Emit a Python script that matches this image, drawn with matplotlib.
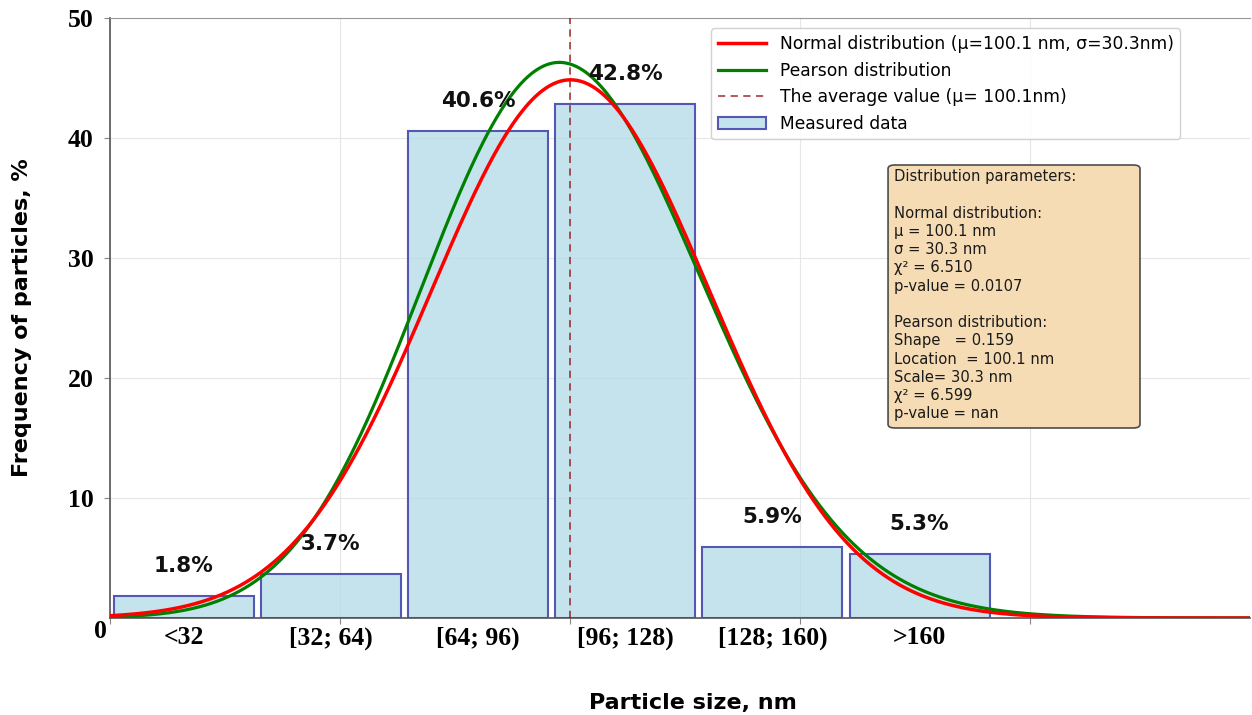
import math
import numpy as np
import matplotlib
matplotlib.use("Agg")
import matplotlib.pyplot as plt
from matplotlib.lines import Line2D
from matplotlib.patches import Patch, FancyBboxPatch

plt.rcParams["font.family"] = ["DejaVu Sans"]

# ---- data ----
categories = ["<32", "[32; 64)", "[64; 96)", "[96; 128)", "[128; 160)", ">160"]
bin_centers = [16, 48, 80, 112, 144, 176]
frequencies = [1.8, 3.7, 40.6, 42.8, 5.9, 5.3]
mu = 100.1
sigma = 30.3
pearson_skew = 0.159
pearson_loc = 100.1
pearson_scale = 30.3
normal_peak = 44.85
pearson_peak = 46.3
y_ticks = [10, 20, 30, 40, 50]
x_grid = [0, 50, 100, 150, 200]

params_text = ("Distribution parameters:\n\n"
               "Normal distribution:\n"
               "μ = 100.1 nm\n"
               "σ = 30.3 nm\n"
               "χ² = 6.510\n"
               "p-value = 0.0107\n\n"
               "Pearson distribution:\n"
               "Shape   = 0.159\n"
               "Location  = 100.1 nm\n"
               "Scale= 30.3 nm\n"
               "χ² = 6.599\n"
               "p-value = nan")

# ---- curves ----
x = np.linspace(0, 250, 1000)
norm_pdf = np.exp(-0.5 * ((x - mu) / sigma) ** 2)
norm_curve = normal_peak * norm_pdf / norm_pdf.max()

beta = 2.0 / pearson_skew
alpha = beta ** 2
zeta = -alpha / beta
z = (x - pearson_loc) / pearson_scale
t = beta * (z - zeta)
logpdf = (alpha - 1) * np.log(t) - t - math.lgamma(alpha)
p_pdf = np.exp(logpdf - logpdf.max())
pearson_curve = pearson_peak * p_pdf / p_pdf.max()

# ---- figure ----
fig = plt.figure(figsize=(12.52, 7.15), dpi=100)
W, H = 1252, 715
ax = fig.add_axes([110 / W, (H - 618) / H, (1250 - 110) / W, 600 / H])

bar_face = (0.678, 0.847, 0.902, 0.7)
bar_edge = "#5458b4"
ax.bar(bin_centers, frequencies, width=30.4, facecolor=bar_face,
       edgecolor=bar_edge, linewidth=1.5, label="Measured data", zorder=2)
ax.plot(x, norm_curve, color="red", lw=2.5, zorder=4)
ax.plot(x, pearson_curve, color="green", lw=2.3, zorder=3)
ax.axvline(mu, color="darkred", ls=(0, (4, 3)), lw=1.3, alpha=0.7, zorder=3)

for xc, h in zip(bin_centers, frequencies):
    ax.text(xc, h + 2.5, f"{h}%", ha="center", va="center",
            fontsize=15.5, fontweight="bold", color="#111111", zorder=5)

ax.set_xlim(0, (1250 - 110) / 4.6)
ax.set_ylim(0, 50)

ax.set_xticks(x_grid)
ax.set_xticklabels([])
ax.set_xticks(bin_centers, minor=True)
ax.set_xticklabels(categories, minor=True, fontfamily="Liberation Serif",
                   fontweight="bold", fontsize=18.5)
ax.tick_params(axis="x", which="minor", length=0, pad=6)
ax.tick_params(axis="x", which="major", length=4, color="#888888")

ax.set_yticks(y_ticks)
ax.set_yticklabels([str(v) for v in y_ticks], fontfamily="Liberation Serif",
                   fontweight="bold", fontsize=18.5)
ax.tick_params(axis="y", length=4, color="#888888", pad=8)
ax.text(-0.003, -0.003, "0", transform=ax.transAxes, ha="right", va="top",
        fontfamily="Liberation Serif", fontweight="bold", fontsize=18.5)

ax.grid(True, which="major", color="#e6e6e6", lw=0.8, zorder=0)
ax.set_axisbelow(True)
for s in ["left", "bottom"]:
    ax.spines[s].set_color("#555555")
    ax.spines[s].set_linewidth(1.2)
ax.spines["top"].set_color("#999999")
ax.spines["right"].set_visible(False)

ax.set_xlabel("Particle size, nm", fontsize=16, fontweight="bold")
ax.xaxis.set_label_coords(0.511, -0.125)
ax.set_ylabel("Frequency of particles, %", fontsize=16, fontweight="bold")
ax.yaxis.set_label_coords(-0.068, 0.5)

handles = [
    Line2D([], [], color="red", lw=2.5),
    Line2D([], [], color="green", lw=2.3),
    Line2D([], [], color="darkred", ls=(0, (4, 3)), lw=1.3, alpha=0.7),
    Patch(facecolor=bar_face, edgecolor=bar_edge, linewidth=1.5),
]
labels = ["Normal distribution (μ=100.1 nm, σ=30.3nm)",
          "Pearson distribution",
          "The average value (μ= 100.1nm)",
          "Measured data"]
ax.legend(handles, labels, loc="upper right", bbox_to_anchor=(0.939, 0.983),
          borderaxespad=0, fontsize=12.3, handlelength=2.8, framealpha=0.9,
          edgecolor="#cccccc")

# parameter box
box = FancyBboxPatch((0.6825, 0.3167), 0.221, 0.4383,
                     boxstyle="round,pad=0,rounding_size=0.006",
                     transform=ax.transAxes, facecolor="#f5dbb0", alpha=0.95,
                     edgecolor="#444444", linewidth=1.2, zorder=6)
ax.add_patch(box)
ax.text(0.6875, 0.748, params_text, transform=ax.transAxes, ha="left", va="top",
        fontsize=10.6, linespacing=1.27, color="#1a1a1a", zorder=7)

fig.savefig("out.png", dpi=100)
